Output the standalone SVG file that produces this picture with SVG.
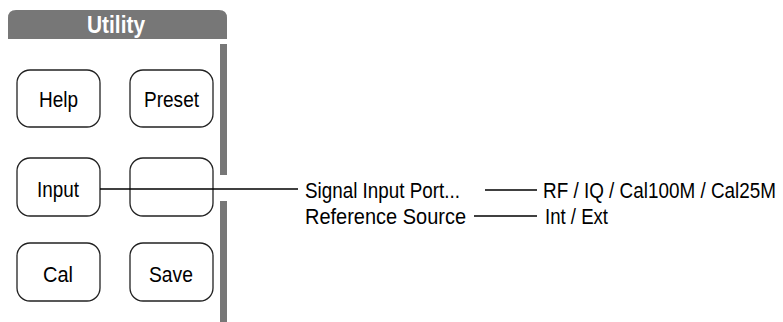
<svg xmlns="http://www.w3.org/2000/svg" width="783" height="322" viewBox="0 0 783 322">
<style>
.bg{fill:#ffffff}
.panel{fill:#777777}
.btn{fill:#ffffff;stroke:#222222;stroke-width:1.3}
.t{font-family:"Liberation Sans",Arial,sans-serif;font-size:22.5px;fill:#000000}
.hd{font-family:"Liberation Sans",Arial,sans-serif;font-size:24px;font-weight:bold;fill:#ffffff}
.ln{stroke:#000000;stroke-width:1.3;fill:none}
</style>
<rect class="bg" x="0" y="0" width="783" height="322"/>
<g id="panel">
<path class="panel" d="M8,39 V18 Q8,10 16,10 H219 Q227,10 227,18 V39 Z"/>
<text class="hd" x="87" y="33" textLength="58" lengthAdjust="spacingAndGlyphs">Utility</text>
<rect class="panel" x="220" y="44" width="7" height="131"/>
<rect class="panel" x="220" y="201" width="7" height="121"/>
</g>
<g id="btn-help">
<rect class="btn" x="17" y="70" width="83" height="57" rx="13"/>
<text class="t" x="39" y="107" textLength="39" lengthAdjust="spacingAndGlyphs">Help</text>
</g>
<g id="btn-preset">
<rect class="btn" x="130" y="70" width="83" height="57" rx="13"/>
<text class="t" x="144" y="107" textLength="55" lengthAdjust="spacingAndGlyphs">Preset</text>
</g>
<g id="btn-input">
<rect class="btn" x="17" y="158" width="83" height="58" rx="13"/>
<text class="t" x="37" y="197" textLength="42" lengthAdjust="spacingAndGlyphs">Input</text>
</g>
<g id="btn-blank">
<rect class="btn" x="130" y="158" width="83" height="58" rx="13"/>
</g>
<g id="btn-cal">
<rect class="btn" x="17" y="243" width="83" height="58" rx="13"/>
<text class="t" x="43" y="282" textLength="30" lengthAdjust="spacingAndGlyphs">Cal</text>
</g>
<g id="btn-save">
<rect class="btn" x="130" y="243" width="83" height="58" rx="13"/>
<text class="t" x="149" y="282" textLength="44" lengthAdjust="spacingAndGlyphs">Save</text>
</g>
<g id="menu-signal">
<text class="t" x="305" y="198" textLength="155" lengthAdjust="spacingAndGlyphs">Signal Input Port...</text>
</g>
<g id="menu-reference">
<text class="t" x="305" y="224" textLength="161" lengthAdjust="spacingAndGlyphs">Reference Source</text>
</g>
<g id="opt-signal">
<text class="t" transform="translate(543,198) scale(0.84,1)" x="0" y="0">RF / IQ / Cal100M / Cal25M</text>
</g>
<g id="opt-reference">
<text class="t" x="545" y="224" textLength="63" lengthAdjust="spacingAndGlyphs">Int / Ext</text>
</g>
<g id="connectors">
<line class="ln" x1="100" y1="189" x2="298" y2="189"/>
<line class="ln" x1="485" y1="190" x2="537" y2="190"/>
<line class="ln" x1="474" y1="216" x2="537" y2="216"/>
</g>
</svg>
